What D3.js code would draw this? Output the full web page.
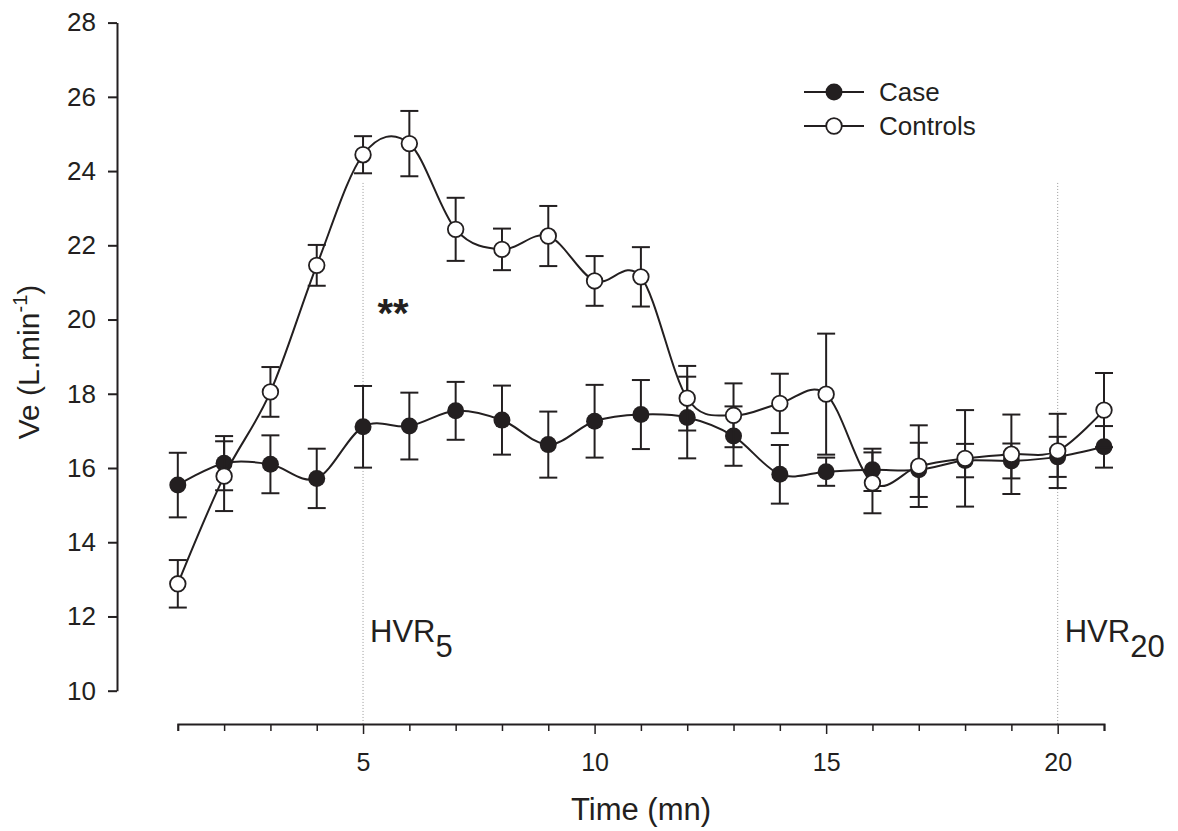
<!DOCTYPE html>
<html>
<head>
<meta charset="utf-8">
<script src="https://cdn.jsdelivr.net/npm/d3@7"></script>
<style>
  html, body { margin: 0; padding: 0; background: #fff; }
  svg { display: block; font-family: "Liberation Sans", Arial, sans-serif; }
</style>
</head>
<body>
<svg id="chart" width="1178" height="831"></svg>
<script>
// ---- Data ----
const time = [1,2,3,4,5,6,7,8,9,10,11,12,13,14,15,16,17,18,19,20,21];
const caseMean = [15.54,16.13,16.10,15.72,17.11,17.13,17.54,17.29,16.63,17.26,17.44,17.36,16.86,15.83,15.90,15.95,15.95,16.20,16.19,16.30,16.57];
const caseErr  = [0.87,0.73,0.78,0.80,1.10,0.90,0.78,0.93,0.89,0.98,0.93,1.10,0.80,0.79,0.38,0.57,0.73,0.45,0.47,0.54,0.56];
const ctrlMean = [12.88,15.78,18.05,21.46,24.44,24.74,22.43,21.89,22.25,21.04,21.15,17.88,17.42,17.74,17.99,15.60,16.05,16.26,16.37,16.46,17.56];
const ctrlErr  = [0.64,0.94,0.67,0.55,0.50,0.88,0.85,0.56,0.81,0.67,0.80,0.87,0.86,0.80,1.63,0.82,1.10,1.30,1.07,1.00,1.00];
const yTicks = [10,12,14,16,18,20,22,24,26,28];
const xLabelTicks = [5,10,15,20];
const refLines = [{t:5, sub:"5"}, {t:20, sub:"20"}];
const refTop = 23.68;
const seriesNames = ["Case","Controls"];

// ---- Layout ----
const svg = d3.select("#chart");
const ink = "#231f20";
const x = d3.scaleLinear().domain([1,21]).range([177.8,1104]);
const y = d3.scaleLinear().domain([10,28]).range([690.7,22.6]);
const yAxisX = 117;
const xAxisY = 724;

// Reference dotted lines
refLines.forEach(r => {
  svg.append("line")
    .attr("x1", x(r.t)).attr("x2", x(r.t))
    .attr("y1", y(refTop)).attr("y2", xAxisY)
    .attr("stroke", "#9a9a9a").attr("stroke-width", 1)
    .attr("stroke-dasharray", "1,2");
  const t = svg.append("text")
    .attr("x", x(r.t) + 7).attr("y", 642)
    .attr("font-size", 31).attr("fill", ink);
  t.append("tspan").text("HVR");
  t.append("tspan").attr("dy", 15).attr("font-size", 31).text(r.sub);
});

// Y axis
const yAxis = d3.axisLeft(y).tickValues(yTicks).tickSize(9).tickSizeOuter(0).tickPadding(12);
const gy = svg.append("g").attr("transform", `translate(${yAxisX},0)`).call(yAxis);
gy.select(".domain").attr("stroke", ink).attr("stroke-width", 2);
gy.selectAll(".tick line").attr("stroke", ink).attr("stroke-width", 2);
gy.selectAll(".tick text").attr("font-size", 26).attr("fill", ink)
  .attr("font-family", "Liberation Sans, Arial, sans-serif");

// X axis
const xAxis = d3.axisBottom(x).tickValues(time).tickSizeOuter(0)
  .tickSize(7).tickFormat(d => xLabelTicks.includes(d) ? d : "").tickPadding(22);
const gx = svg.append("g").attr("transform", `translate(0,${xAxisY})`).call(xAxis);
gx.select(".domain").attr("stroke", ink).attr("stroke-width", 2);
gx.selectAll(".tick line").attr("stroke", ink).attr("stroke-width", 1.5)
  .attr("y2", d => xLabelTicks.includes(d) ? 10 : 7);
gx.selectAll(".tick text").attr("font-size", 25).attr("fill", ink)
  .attr("font-family", "Liberation Sans, Arial, sans-serif");

// Axis titles
svg.append("text").attr("x", 641).attr("y", 820).attr("text-anchor", "middle")
  .attr("font-size", 31).attr("fill", ink).text("Time (mn)");
const yl = svg.append("text")
  .attr("transform", "translate(39,362) rotate(-90)")
  .attr("text-anchor", "middle").attr("font-size", 30).attr("fill", ink);
yl.append("tspan").text("Ve (L.min");
yl.append("tspan").attr("dy", -12).attr("font-size", 20).text("-1");
yl.append("tspan").attr("dy", 12).text(")");

// ** annotation
svg.append("text").attr("x", 393).attr("y", 327).attr("text-anchor", "middle")
  .attr("font-size", 40).attr("font-weight", "bold").attr("fill", ink).text("**");

const line = d3.line().x(d => x(d.t)).y(d => y(d.m)).curve(d3.curveCatmullRom.alpha(0));

function drawSeries(means, errs, filled) {
  const data = time.map((t,i) => ({t, m: means[i], e: errs[i]}));
  const g = svg.append("g");
  const eb = g.selectAll(".eb").data(data).enter().append("g");
  eb.append("line").attr("x1", d => x(d.t)).attr("x2", d => x(d.t))
    .attr("y1", d => y(d.m - d.e)).attr("y2", d => y(d.m + d.e))
    .attr("stroke", ink).attr("stroke-width", 2);
  [1,-1].forEach(s => {
    eb.append("line").attr("x1", d => x(d.t) - 9).attr("x2", d => x(d.t) + 9)
      .attr("y1", d => y(d.m + s*d.e)).attr("y2", d => y(d.m + s*d.e))
      .attr("stroke", ink).attr("stroke-width", 2);
  });
  g.append("path").datum(data).attr("d", line).attr("fill", "none")
    .attr("stroke", ink).attr("stroke-width", 2);
  g.selectAll("circle").data(data).enter().append("circle")
    .attr("cx", d => x(d.t)).attr("cy", d => y(d.m))
    .attr("r", filled ? 8.5 : 7.8)
    .attr("fill", filled ? ink : "#fff")
    .attr("stroke", ink).attr("stroke-width", filled ? 0 : 1.8);
}
drawSeries(caseMean, caseErr, true);
drawSeries(ctrlMean, ctrlErr, false);

// Legend
seriesNames.forEach((name, i) => {
  const ly = 92 + i * 34;
  svg.append("line").attr("x1", 804).attr("x2", 864).attr("y1", ly).attr("y2", ly)
    .attr("stroke", ink).attr("stroke-width", 2);
  svg.append("circle").attr("cx", 834).attr("cy", ly).attr("r", i === 0 ? 8.5 : 7.8)
    .attr("fill", i === 0 ? ink : "#fff").attr("stroke", ink)
    .attr("stroke-width", i === 0 ? 0 : 1.8);
  svg.append("text").attr("x", 879).attr("y", ly).attr("dy", "0.35em")
    .attr("font-size", 26).attr("fill", ink).text(name);
});
</script>
</body>
</html>
